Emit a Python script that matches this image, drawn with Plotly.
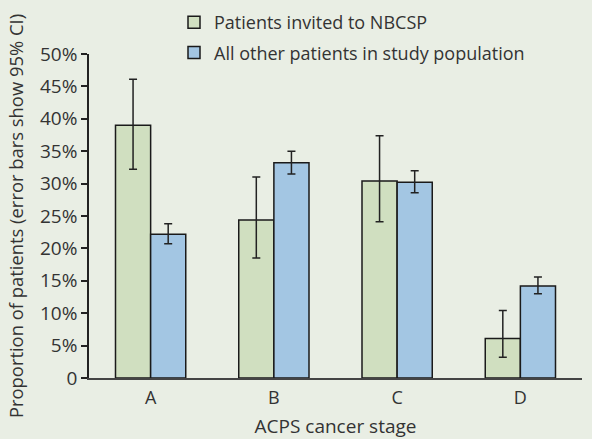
import plotly.graph_objects as go

categories = ["A", "B", "C", "D"]
invited = [39.0, 24.4, 30.4, 6.1]
invited_hi = [46.1, 31.0, 37.4, 10.4]
invited_lo = [32.2, 18.5, 24.1, 3.2]
others = [22.2, 33.2, 30.2, 14.2]
others_hi = [23.8, 35.0, 32.0, 15.6]
others_lo = [20.7, 31.5, 28.6, 13.0]
tick_vals = [0, 5, 10, 15, 20, 25, 30, 35, 40, 45, 50]
tick_text = ["0", "5%", "10%", "15%", "20%", "25%", "30%", "35%", "40%", "45%", "50%"]

BG = "#e9eee4"
TXT = "#333333"
FONT = "Open Sans"

def err(vals, hi, lo):
    return dict(type="data", symmetric=False,
                array=[h - v for h, v in zip(hi, vals)],
                arrayminus=[v - l for v, l in zip(vals, lo)],
                color="#222222", thickness=1.5, width=4)

fig = go.Figure()
fig.add_trace(go.Bar(x=categories, y=invited, name="Patients invited to NBCSP",
                     marker=dict(color="#d0dfc0", line=dict(color="#1a1a1a", width=1.5)),
                     error_y=err(invited, invited_hi, invited_lo), legendgroup="a"))
fig.add_trace(go.Bar(x=categories, y=others, name="All other patients in study population",
                     marker=dict(color="#a3c6e3", line=dict(color="#1a1a1a", width=1.5)),
                     error_y=err(others, others_hi, others_lo), legendgroup="b"))

fig.update_layout(
    width=592, height=439,
    paper_bgcolor=BG, plot_bgcolor=BG,
    margin=dict(l=89, r=10, t=54, b=61, autoexpand=False),
    barmode="group", bargap=0.43, bargroupgap=0,
    font=dict(family=FONT, color=TXT, size=18),
    showlegend=True,
    legend=dict(x=(174 - 89) / 493, xref="paper", y=1 - 4 / 439, yref="container",
                xanchor="left", yanchor="top",
                bgcolor="rgba(0,0,0,0)", font=dict(size=18, color=TXT),
                tracegroupgap=4, traceorder="grouped"),
    xaxis=dict(range=[-0.5, 3.5], showline=True, linecolor="#444", linewidth=1.5,
               ticks="", showgrid=False, zeroline=False, automargin=False,
               tickfont=dict(size=18), ticklabelstandoff=3,
               title=dict(text="ACPS cancer stage", font=dict(size=19), standoff=14)),
    yaxis=dict(range=[0, 50], tickvals=tick_vals, ticktext=tick_text,
               showline=True, linecolor="#222", linewidth=1.5,
               ticks="outside", ticklen=6, tickcolor="#222", tickwidth=1.5,
               showgrid=False, zeroline=False, automargin=False, tickfont=dict(size=19),
               title=dict(text="Proportion of patients (error bars show 95% CI)",
                          font=dict(size=18.4), standoff=12)),
)
fig.write_html("out.html", config={"displayModeBar": False},
               post_script="document.body.style.margin='0';document.body.style.background='%s';" % BG)
